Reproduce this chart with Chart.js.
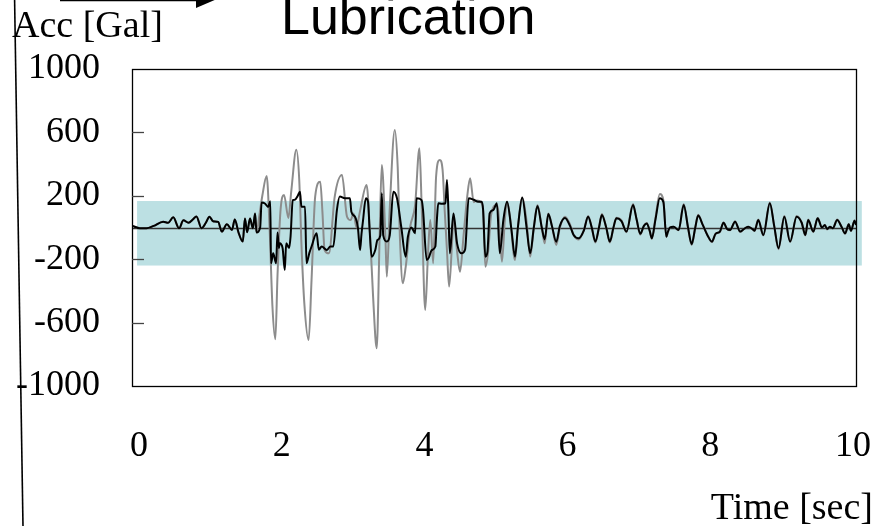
<!DOCTYPE html>
<html>
<head>
<meta charset="utf-8">
<script src="https://cdn.jsdelivr.net/npm/chart.js@4"></script>
<style>
  html, body { margin: 0; padding: 0; background: #fff; }
  #wrap { width: 880px; height: 526px; position: relative; }
</style>
</head>
<body>
<div id="wrap"><canvas id="chart"></canvas></div>
<script>
const SERIF = "'Liberation Serif', 'Times New Roman', serif"
const SANS = "'Liberation Sans', Arial, sans-serif"

const xTicks = [0, 2, 4, 6, 8, 10]
const yTicks = [-1000, -600, -200, 200, 600, 1000]
const innerTicks = [-600, -200, 200, 600]
const bandRange = [-240, 167]   // shaded band, Gal
const bandSpan = [0.07, 10.08]  // shaded band, sec
const labelRange = [-0.098, 10.042] // the slide's time labels sit slightly off the data scale

// [time sec, acc Gal] — with lubrication
const blackTrace = [
  [0, 11], [0.11, -5], [0.2, -5], [0.3, 10], [0.43, 37], [0.5, 30], [0.57, 64], [0.65, -5],
  [0.71, 45], [0.78, 30], [0.84, 50], [0.89, 70], [0.96, -5], [1.02, 30], [1.07, 68], [1.12, 40],
  [1.19, 35], [1.24, -26], [1.31, 20], [1.38, -15], [1.42, 50], [1.47, -30], [1.53, -89], [1.56, 56],
  [1.59, -30], [1.63, 56], [1.67, -5], [1.70, 88], [1.72, -32], [1.77, 0], [1.79, 157], [1.84, 150],
  [1.88, 130], [1.91, 165], [1.92, -226], [1.95, -163], [1.99, -226], [2.01, -32], [2.03, -130],
  [2.04, -100], [2.08, -130], [2.11, -268], [2.13, -100], [2.17, -130], [2.19, -58], [2.22, 173],
  [2.25, 175], [2.29, 200], [2.32, 226], [2.34, 131], [2.39, 131], [2.41, -226], [2.45, -160],
  [2.48, -120], [2.55, -37], [2.58, -140], [2.62, -120], [2.69, -142], [2.74, -120], [2.78, -120],
  [2.83, 110], [2.87, 195], [2.94, 184], [3.01, 184], [3.03, 100], [3.08, 68], [3.12, 0],
  [3.15, -142], [3.17, -40], [3.19, 40], [3.23, 184], [3.26, 163], [3.28, 0], [3.31, -184],
  [3.36, -142], [3.39, -79], [3.43, -50], [3.45, 216], [3.47, -50], [3.52, -89], [3.56, -50],
  [3.61, 226], [3.66, 184], [3.72, 0], [3.78, -184], [3.81, -60], [3.86, 0], [3.91, -37],
  [3.93, 184], [4.00, 173], [4.02, 110], [4.07, -205], [4.10, -190], [4.14, -142], [4.19, -120],
  [4.21, 40], [4.23, 153], [4.28, 150], [4.33, 153], [4.35, 300], [4.37, 110], [4.39, -163],
  [4.44, 89], [4.49, -100], [4.55, -163], [4.60, -140], [4.65, 184], [4.72, 175], [4.78, 163],
  [4.83, 163], [4.85, 110], [4.88, -184], [4.91, -150], [4.94, 89], [4.99, 110], [5.04, 153],
  [5.08, -163], [5.13, 50], [5.18, 163], [5.24, -10], [5.29, -184], [5.33, 0], [5.39, 190],
  [5.45, 0], [5.50, -163], [5.55, 0], [5.60, 135], [5.66, 0], [5.70, -75], [5.75, 85], [5.80, 10],
  [5.86, -90], [5.91, 10], [5.98, 60], [6.05, 10], [6.10, -47], [6.17, -68], [6.24, -20],
  [6.30, 68], [6.35, 0], [6.40, -89], [6.45, 0], [6.49, 79], [6.55, 0], [6.60, -89], [6.65, 0],
  [6.69, 58], [6.76, 40], [6.83, -26], [6.92, 142], [6.97, 50], [7.02, -40], [7.07, 10],
  [7.11, 26], [7.15, -20], [7.18, -68], [7.23, 50], [7.29, 184], [7.34, 160], [7.38, -58],
  [7.40, -30], [7.43, 0], [7.48, 5], [7.55, -16], [7.62, 142], [7.68, 0], [7.73, -105],
  [7.78, 0], [7.82, 75], [7.88, 20], [7.95, -50], [8.01, -89], [8.06, -40], [8.12, -26],
  [8.17, 30], [8.22, -10], [8.26, -16], [8.33, 37], [8.40, -26], [8.45, -10], [8.51, 5],
  [8.57, -10], [8.60, -20], [8.65, 47], [8.72, -47], [8.81, 153], [8.87, 10], [8.93, -131],
  [9.01, 68], [9.09, -89], [9.18, 68], [9.25, 30], [9.30, -47], [9.34, 47], [9.41, -26],
  [9.47, 58], [9.53, 0], [9.57, 16], [9.60, -10], [9.64, 5], [9.68, -5], [9.74, 47], [9.80, 5],
  [9.85, -37], [9.90, 20], [9.93, -20], [9.98, 43], [10.0, 16],
]

// [time sec, acc Gal] — without lubrication
const grayTrace = [
  [0, 11], [0.11, -5], [0.2, -5], [0.3, 10], [0.43, 37], [0.5, 30], [0.57, 64], [0.65, -5],
  [0.71, 45], [0.78, 30], [0.84, 50], [0.89, 70], [0.96, -5], [1.02, 30], [1.07, 68], [1.12, 40],
  [1.19, 35], [1.24, -26], [1.31, 20], [1.38, -15], [1.42, 50], [1.47, -30], [1.53, -89], [1.56, 56],
  [1.59, -30], [1.63, 56], [1.67, -5], [1.70, 88], [1.72, -32], [1.76, 80], [1.80, 200],
  [1.86, 325], [1.90, 0], [1.94, -500], [1.98, -705], [2.01, -300], [2.05, 100], [2.10, 205],
  [2.16, 60], [2.20, 230], [2.27, 490], [2.31, 300], [2.34, -100], [2.38, -477], [2.44, -710],
  [2.48, -330], [2.53, 195], [2.60, 289], [2.63, 100], [2.66, -142], [2.72, -163], [2.80, 195],
  [2.90, 331], [2.97, 68], [3.02, 47], [3.06, 89], [3.10, 0], [3.15, 105], [3.24, 268],
  [3.29, -60], [3.33, -436], [3.38, -762], [3.42, -60], [3.45, 394], [3.50, -60], [3.52, -310],
  [3.56, 120], [3.63, 615], [3.67, 380], [3.70, -60], [3.74, -352], [3.78, -250], [3.84, 0],
  [3.91, 140], [3.97, 500], [4.00, 150], [4.05, -520], [4.09, -150], [4.12, 47], [4.16, -225],
  [4.20, 320], [4.25, 426], [4.29, 363], [4.32, 100], [4.35, -142], [4.38, -373], [4.42, -100],
  [4.44, 68], [4.49, -150], [4.53, -279], [4.58, -50], [4.63, 195], [4.67, 310], [4.72, 160],
  [4.76, 170], [4.83, 153], [4.85, 100], [4.88, -247], [4.92, -150], [4.96, 80], [5.04, 142],
  [5.06, 100], [5.11, -216], [5.15, 50], [5.18, 163], [5.22, 70], [5.29, -205], [5.33, 0],
  [5.39, 184], [5.45, 40], [5.50, -184], [5.55, 0], [5.60, 142], [5.66, 0], [5.70, -100],
  [5.75, 89], [5.80, 10], [5.86, -110], [5.91, 0], [5.98, 68], [6.05, 20], [6.10, -47],
  [6.17, -75], [6.24, -20], [6.30, 72], [6.35, 0], [6.40, -95], [6.45, 0], [6.49, 85], [6.55, 0],
  [6.60, -95], [6.65, 0], [6.69, 62], [6.76, 45], [6.83, -30], [6.92, 148], [6.97, 50],
  [7.02, -45], [7.07, 10], [7.11, 28], [7.15, -20], [7.18, -72], [7.23, 60], [7.29, 211],
  [7.34, 170], [7.38, -60], [7.40, -30], [7.43, 0], [7.48, 5], [7.55, -18], [7.62, 148],
  [7.68, 0], [7.73, -110], [7.78, 0], [7.82, 80], [7.88, 20], [7.95, -50], [8.01, -92],
  [8.06, -40], [8.12, -28], [8.17, 32], [8.22, -10], [8.26, -18], [8.33, 40], [8.40, -28],
  [8.45, -10], [8.51, 5], [8.57, -10], [8.60, -22], [8.65, 50], [8.72, -50], [8.81, 158],
  [8.87, 10], [8.93, -137], [9.01, 72], [9.09, -92], [9.18, 72], [9.25, 30], [9.30, -50],
  [9.34, 50], [9.41, -28], [9.47, 60], [9.53, 0], [9.57, 16], [9.60, -12], [9.64, 5], [9.68, -5],
  [9.74, 50], [9.80, 5], [9.85, -40], [9.90, 20], [9.93, -22], [9.98, 45], [10.0, 16],
]

const toPoints = (trace) => trace.map(([x, y]) => ({ x, y }))

// keep axis label overhang from shrinking the plot box
const noPadding = (scale) => {
  scale.paddingLeft = 0
  scale.paddingRight = 0
  scale.paddingTop = 0
  scale.paddingBottom = 0
}

// band, zero line, frame, inner ticks and the slide texts
const decor = {
  id: "decor",
  beforeDatasetsDraw(chart) {
    const { ctx, chartArea: a, scales: { x, y } } = chart
    ctx.save()
    ctx.fillStyle = "#bce0e3"
    const bx0 = x.getPixelForValue(bandSpan[0])
    const bx1 = x.getPixelForValue(bandSpan[1])
    const by0 = y.getPixelForValue(bandRange[1])
    const by1 = y.getPixelForValue(bandRange[0])
    ctx.fillRect(bx0, by0, bx1 - bx0, by1 - by0)

    const zy = Math.round(y.getPixelForValue(0)) + 0.5
    ctx.strokeStyle = "#333"
    ctx.lineWidth = 1.3
    ctx.beginPath()
    ctx.moveTo(a.left, zy)
    ctx.lineTo(a.right, zy)
    ctx.stroke()
    ctx.restore()
  },
  afterDatasetsDraw(chart) {
    const { ctx, chartArea: a, scales: { y } } = chart
    ctx.save()
    ctx.strokeStyle = "#000"
    ctx.lineWidth = 1.3
    ctx.strokeRect(a.left + 0.5, a.top + 0.5, a.right - a.left, a.bottom - a.top)
    ctx.strokeStyle = "#444"
    ctx.lineWidth = 1.3
    innerTicks.forEach((v) => {
      const py = Math.round(y.getPixelForValue(v)) + 0.5
      ctx.beginPath()
      ctx.moveTo(a.left, py)
      ctx.lineTo(a.left + 12, py)
      ctx.stroke()
    })
    ctx.restore()
  },
  afterDraw(chart) {
    const { ctx } = chart
    ctx.save()
    // slanted line at the left edge of the slide
    ctx.strokeStyle = "#000"
    ctx.lineWidth = 1.6
    ctx.beginPath()
    ctx.moveTo(14.6, 0)
    ctx.lineTo(23, 526)
    ctx.stroke()
    // arrow cut off by the top edge
    ctx.lineWidth = 3.5
    ctx.beginPath()
    ctx.moveTo(60, -0.5)
    ctx.lineTo(200, -0.5)
    ctx.stroke()
    ctx.fillStyle = "#000"
    ctx.beginPath()
    ctx.moveTo(196, -12)
    ctx.lineTo(196, 8)
    ctx.lineTo(217, -1)
    ctx.closePath()
    ctx.fill()

    ctx.fillStyle = "#000"
    ctx.textBaseline = "alphabetic"
    ctx.font = `38px ${SERIF}`
    ctx.textAlign = "left"
    ctx.fillText("Acc [Gal]", 12, 37)
    ctx.textAlign = "right"
    ctx.fillText("Time [sec]", 873, 519)
    ctx.font = `52px ${SANS}`
    ctx.textAlign = "left"
    ctx.fillText("Lubrication", 281, 34)
    ctx.restore()
  },
}

new Chart(document.getElementById("chart"), {
  type: "line",
  data: {
    datasets: [
      {
        label: "With lubrication",
        data: toPoints(blackTrace),
        borderColor: "#000",
        borderWidth: 2,
        pointRadius: 0,
        cubicInterpolationMode: "monotone",
        order: 1,
      },
      {
        label: "Without lubrication",
        data: toPoints(grayTrace),
        borderColor: "#8c8c8c",
        borderWidth: 2,
        pointRadius: 0,
        cubicInterpolationMode: "monotone",
        order: 2,
      },
    ],
  },
  options: {
    animation: false,
    responsive: true,
    maintainAspectRatio: false,
    layout: { padding: { top: 69, right: 24, left: 0, bottom: 0 } },
    plugins: { legend: { display: false }, tooltip: { enabled: false } },
    scales: {
      x: {
        type: "linear",
        min: 0,
        max: 10,
        display: true,
        afterFit: (scale) => { scale.height = 0; noPadding(scale) },
        grid: { display: false, drawTicks: false },
        border: { display: false },
        ticks: { display: false },
      },
      xLabels: {
        type: "linear",
        position: "bottom",
        min: labelRange[0],
        max: labelRange[1],
        afterBuildTicks: (scale) => { scale.ticks = xTicks.map((v) => ({ value: v })) },
        afterFit: (scale) => { scale.height = 140; noPadding(scale) },
        grid: { display: false, drawTicks: false },
        border: { display: false },
        ticks: {
          padding: 39,
          maxRotation: 0,
          color: "#000",
          font: { family: SERIF, size: 36 },
          callback: (v) => String(v),
        },
      },
      y: {
        min: -1000,
        max: 1000,
        afterBuildTicks: (scale) => { scale.ticks = yTicks.map((v) => ({ value: v })) },
        afterFit: (scale) => { scale.width = 132; noPadding(scale) },
        grid: { display: false, drawTicks: false },
        border: { display: false },
        ticks: {
          padding: 32,
          color: "#000",
          font: { family: SERIF, size: 36 },
          callback: (v) => String(v),
        },
      },
    },
  },
  plugins: [decor],
})
</script>
</body>
</html>
